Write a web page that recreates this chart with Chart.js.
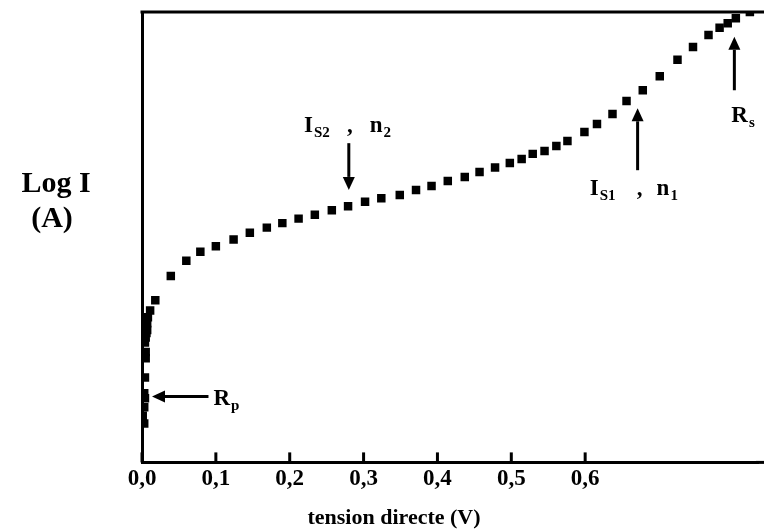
<!DOCTYPE html>
<html>
<head>
<meta charset="utf-8">
<script src="https://cdn.jsdelivr.net/npm/chart.js@4"></script>
<style>
  html, body { margin: 0; padding: 0; background: #fff; }
  #wrap { width: 764px; height: 531px; position: relative; }
</style>
</head>
<body>
<div id="wrap"><canvas id="c" width="764" height="531"></canvas></div>
<script>
// ---- data ----
const voltage = [
  0.003, 0.001, 0.003, 0.004, 0.003, 0.004, 0.005, 0.005, 0.004, 0.005, 0.006, 0.007, 0.007, 0.008, 0.011, 0.018,
  0.039, 0.060, 0.079, 0.100, 0.124, 0.146, 0.169, 0.190, 0.212, 0.234, 0.257, 0.279,
  0.302, 0.324, 0.349, 0.371, 0.392, 0.414, 0.437, 0.457, 0.478, 0.498, 0.514, 0.529,
  0.545, 0.561, 0.576, 0.599, 0.616, 0.637, 0.656, 0.678, 0.701, 0.725, 0.746, 0.767,
  0.782, 0.793, 0.804, 0.823
];
const logI = [
  -9.31, -9.17, -9.02, -8.86, -8.77, -8.49, -8.15, -8.04, -7.87, -7.78, -7.70, -7.65, -7.53, -7.42, -7.30, -7.12,
  -6.69, -6.42, -6.26, -6.16, -6.04, -5.92, -5.83, -5.75, -5.67, -5.60, -5.52, -5.45,
  -5.37, -5.31, -5.25, -5.16, -5.09, -5.00, -4.93, -4.84, -4.76, -4.68, -4.61, -4.52,
  -4.47, -4.38, -4.29, -4.13, -3.99, -3.81, -3.58, -3.39, -3.14, -2.85, -2.62, -2.41,
  -2.28, -2.20, -2.11, -2.00
];
const xTickValues = [0, 0.1, 0.2, 0.3, 0.4, 0.5, 0.6];
const xTitle = 'tension directe (V)';
const yTitleLines = ['Log I', '(A)'];

// annotation arrows, in data units (V, log I)
const arrows = [
  { id: 'Rp',  x0: 0.090, y0: -8.83, x1: 0.0135, y1: -8.83 },
  { id: 'IS2', x0: 0.280, y0: -4.33, x1: 0.280, y1: -5.16 },
  { id: 'IS1', x0: 0.671, y0: -4.81, x1: 0.671, y1: -3.71 },
  { id: 'Rs',  x0: 0.802, y0: -3.39, x1: 0.802, y1: -2.44 }
];

const points = voltage.map((v, i) => ({ x: v, y: logI[i] }));
const SERIF = '"Liberation Serif", "Times New Roman", serif';

const framePlugin = {
  id: 'frame',
  afterDraw(chart) {
    const ctx = chart.ctx;
    const a = chart.chartArea;
    const xs = chart.scales.x;
    const ys = chart.scales.y;
    ctx.save();
    ctx.strokeStyle = '#000';
    ctx.fillStyle = '#000';
    ctx.lineWidth = 3;
    // top border
    ctx.beginPath();
    ctx.moveTo(a.left - 1.5, a.top);
    ctx.lineTo(chart.width, a.top);
    ctx.stroke();
    // bottom axis continued to the edge
    ctx.beginPath();
    ctx.moveTo(a.right - 2, a.bottom);
    ctx.lineTo(chart.width, a.bottom);
    ctx.stroke();
    // inward tick marks
    xs.ticks.forEach(t => {
      const px = xs.getPixelForValue(t.value);
      ctx.beginPath();
      ctx.moveTo(px, a.bottom);
      ctx.lineTo(px, a.bottom - 10);
      ctx.stroke();
    });

    // arrows
    const arrow = (x0, y0, x1, y1) => {
      const ang = Math.atan2(y1 - y0, x1 - x0);
      const hl = 13, hw = 6;
      const bx = x1 - Math.cos(ang) * hl, by = y1 - Math.sin(ang) * hl;
      ctx.lineWidth = 3;
      ctx.beginPath();
      ctx.moveTo(x0, y0);
      ctx.lineTo(bx, by);
      ctx.stroke();
      ctx.beginPath();
      ctx.moveTo(x1, y1);
      ctx.lineTo(bx + Math.sin(ang) * hw, by - Math.cos(ang) * hw);
      ctx.lineTo(bx - Math.sin(ang) * hw, by + Math.cos(ang) * hw);
      ctx.closePath();
      ctx.fill();
    };
    const P = {};
    arrows.forEach(ar => {
      const x0 = xs.getPixelForValue(ar.x0), y0 = ys.getPixelForValue(ar.y0);
      const x1 = xs.getPixelForValue(ar.x1), y1 = ys.getPixelForValue(ar.y1);
      arrow(x0, y0, x1, y1);
      P[ar.id] = { x0, y0, x1, y1 };
    });

    const big = 'bold 23px ' + SERIF;
    const sub = 'bold 15px ' + SERIF;
    const pair = (main, s, x, base, align) => {
      ctx.font = big;
      const w1 = ctx.measureText(main).width;
      ctx.font = sub;
      const w2 = ctx.measureText(s).width;
      let left = align === 'right' ? x - w1 - w2 : x;
      ctx.textAlign = 'left';
      ctx.textBaseline = 'alphabetic';
      ctx.font = big;
      ctx.fillText(main, left, base);
      ctx.font = sub;
      ctx.fillText(s, left + w1 + 1, base + 5);
    };
    // R_p
    pair('R', 'p', P.Rp.x0 + 5, P.Rp.y0 + 8, 'left');
    // I_S2 , n_2
    let b = P.IS2.y0 - 11;
    pair('I', 'S2', P.IS2.x0 - 20, b, 'right');
    ctx.font = big; ctx.textAlign = 'center'; ctx.fillText(',', P.IS2.x0 + 1, b);
    pair('n', '2', P.IS2.x0 + 21, b, 'left');
    // I_S1 , n_1
    b = P.IS1.y0 + 25;
    pair('I', 'S1', P.IS1.x0 - 23, b, 'right');
    ctx.font = big; ctx.textAlign = 'center'; ctx.fillText(',', P.IS1.x0 + 2, b);
    pair('n', '1', P.IS1.x0 + 19, b, 'left');
    // R_s
    pair('R', 's', P.Rs.x0 - 3, P.Rs.y0 + 32, 'left');

    // axis titles
    ctx.font = 'bold 22px ' + SERIF;
    ctx.textAlign = 'center';
    ctx.textBaseline = 'middle';
    ctx.fillText(xTitle, 394, 518);
    ctx.font = 'bold 30px ' + SERIF;
    ctx.textBaseline = 'alphabetic';
    ctx.fillText(yTitleLines[0], 56, 192);
    ctx.fillText(yTitleLines[1], 52, 227);
    ctx.restore();
  }
};

new Chart(document.getElementById('c'), {
  type: 'scatter',
  data: {
    datasets: [{
      data: points,
      pointStyle: 'rect',
      pointRadius: 6,
      pointHoverRadius: 6,
      backgroundColor: '#000',
      borderColor: '#000',
      borderWidth: 0
    }]
  },
  options: {
    responsive: false,
    animation: false,
    events: [],
    layout: { padding: { left: 142, right: 0, top: 12, bottom: 35 } },
    plugins: { legend: { display: false }, tooltip: { enabled: false } },
    scales: {
      x: {
        type: 'linear',
        min: 0,
        max: 0.834,
        afterBuildTicks: s => { s.ticks = xTickValues.map(v => ({ value: v })); },
        grid: { display: false, drawTicks: false },
        border: { display: true, color: '#000', width: 3 },
        ticks: {
          padding: 3,
          color: '#000',
          font: { family: SERIF, size: 23, weight: 'bold' },
          maxRotation: 0,
          autoSkip: false,
          callback: v => Number(v).toFixed(1).replace('.', ',')
        }
      },
      y: {
        type: 'linear',
        min: -10,
        max: -2,
        grid: { display: false, drawTicks: false },
        border: { display: true, color: '#000', width: 3 },
        ticks: { display: false }
      }
    }
  },
  plugins: [framePlugin]
});
</script>
</body>
</html>
